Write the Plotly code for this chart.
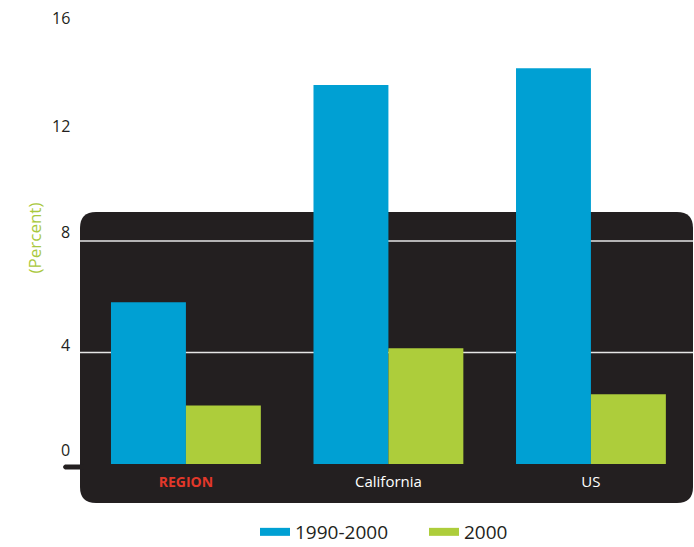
import plotly.graph_objects as go

categories = ["REGION", "California", "US"]
growth_1990_2000 = [5.8, 13.6, 14.2]
share_2000 = [2.1, 4.15, 2.5]
series_names = ["1990-2000", "2000"]
y_ticks = [0, 4, 8, 12, 16]
y_tick_labels = ["0", "4", "8", "12", "16"]
y_axis_title = "(Percent)"

BLUE = "#00a0d3"
GREEN = "#adcd3b"
DARK = "#231f20"
RED = "#e2382a"
TITLE_GREEN = "#a9c83d"

W, H = 694, 547
L, R, T, B = 80, 1, 18, 83
PW, PH = W - L - R, H - T - B
FONT = "Open Sans"
# vertical nudges (px, upward) of the y tick labels, as in the source layout
LABEL_NUDGE = [14, 8, 9, 4, 0]


def px(x):
    return (x - L) / PW


def py(y):
    return (H - B - y) / PH


fig = go.Figure()
fig.add_trace(go.Bar(x=categories, y=growth_1990_2000, name=series_names[0],
                     marker=dict(color=BLUE, line=dict(width=0)), showlegend=False))
fig.add_trace(go.Bar(x=categories, y=share_2000, name=series_names[1],
                     marker=dict(color=GREEN, line=dict(width=0)), showlegend=False))
# legend entries (wide rectangle swatches)
fig.add_trace(go.Scatter(x=[None], y=[None], mode="lines", name=series_names[0],
                         line=dict(color=BLUE, width=8)))
fig.add_trace(go.Scatter(x=[None], y=[None], mode="lines", name=series_names[1],
                         line=dict(color=GREEN, width=8)))

# dark rounded panel
x0, x1, y0, y1, r = 80, 693, 212, 503, 16
pts = [
    ("M", [(x0 + r, y0)]), ("L", [(x1 - r, y0)]), ("Q", [(x1, y0), (x1, y0 + r)]),
    ("L", [(x1, y1 - r)]), ("Q", [(x1, y1), (x1 - r, y1)]), ("L", [(x0 + r, y1)]),
    ("Q", [(x0, y1), (x0, y1 - r)]), ("L", [(x0, y0 + r)]), ("Q", [(x0, y0), (x0 + r, y0)]),
]
path = " ".join(cmd + " " + " ".join(f"{px(a):.5f},{py(b):.5f}" for a, b in p) for cmd, p in pts) + " Z"
shapes = [dict(type="path", path=path, xref="paper", yref="paper", layer="below",
               fillcolor=DARK, line=dict(width=0))]
# gridlines visible on the panel
for v in y_ticks:
    if 0 < v < 9:
        shapes.append(dict(type="line", xref="paper", yref="y", x0=0, x1=1, y0=v, y1=v,
                           layer="below", line=dict(color="#e6e6e6", width=1.5)))
# zero pointer (small rounded tab on the panel's left edge)
tab = (f"M {px(84):.5f},{py(464.5):.5f} L {px(65):.5f},{py(464.5):.5f} "
       f"Q {px(61):.5f},{py(467):.5f} {px(65):.5f},{py(469.5):.5f} "
       f"L {px(84):.5f},{py(469.5):.5f} Z")
shapes.append(dict(type="path", path=tab, xref="paper", yref="paper", layer="below",
                   fillcolor=DARK, line=dict(width=0)))

tick_text = [f'<span style="color:{RED};font-size:14px"><b>{c}</b></span>' if i == 0 else c
             for i, c in enumerate(categories)]

annotations = [dict(text=y_axis_title, xref="paper", yref="paper", x=px(20), y=py(238),
                    textangle=-90, showarrow=False,
                    font=dict(family=FONT, size=17, color=TITLE_GREEN))]
for v, lab, nud in zip(y_ticks, y_tick_labels, LABEL_NUDGE):
    annotations.append(dict(text=lab, xref="paper", yref="y", x=px(72), y=v,
                            xanchor="right", yanchor="middle", yshift=nud, showarrow=False,
                            font=dict(family=FONT, size=16, color=DARK)))

fig.update_layout(
    width=W, height=H,
    margin=dict(l=L, r=R, t=T, b=B, autoexpand=False),
    paper_bgcolor="white", plot_bgcolor="rgba(0,0,0,0)",
    barmode="group", bargap=0.26, bargroupgap=0,
    shapes=shapes,
    font=dict(family=FONT, color=DARK),
    xaxis=dict(range=[-0.523, 2.504], showgrid=False, zeroline=False, showline=False,
               tickmode="array", tickvals=categories, ticktext=tick_text,
               ticks="outside", ticklen=4, tickcolor="rgba(0,0,0,0)",
               tickfont=dict(family=FONT, size=15, color="white")),
    yaxis=dict(range=[0, 16], showgrid=False, zeroline=False, showline=False,
               tickmode="array", tickvals=y_ticks, showticklabels=False),
    legend=dict(orientation="h", x=px(255), xanchor="left", y=py(532), yanchor="middle",
                font=dict(family=FONT, size=19, color=DARK), bgcolor="rgba(0,0,0,0)",
                itemwidth=30, tracegroupgap=0, entrywidth=124, entrywidthmode="pixels"),
    annotations=annotations,
)

fig.write_html("out.html")
